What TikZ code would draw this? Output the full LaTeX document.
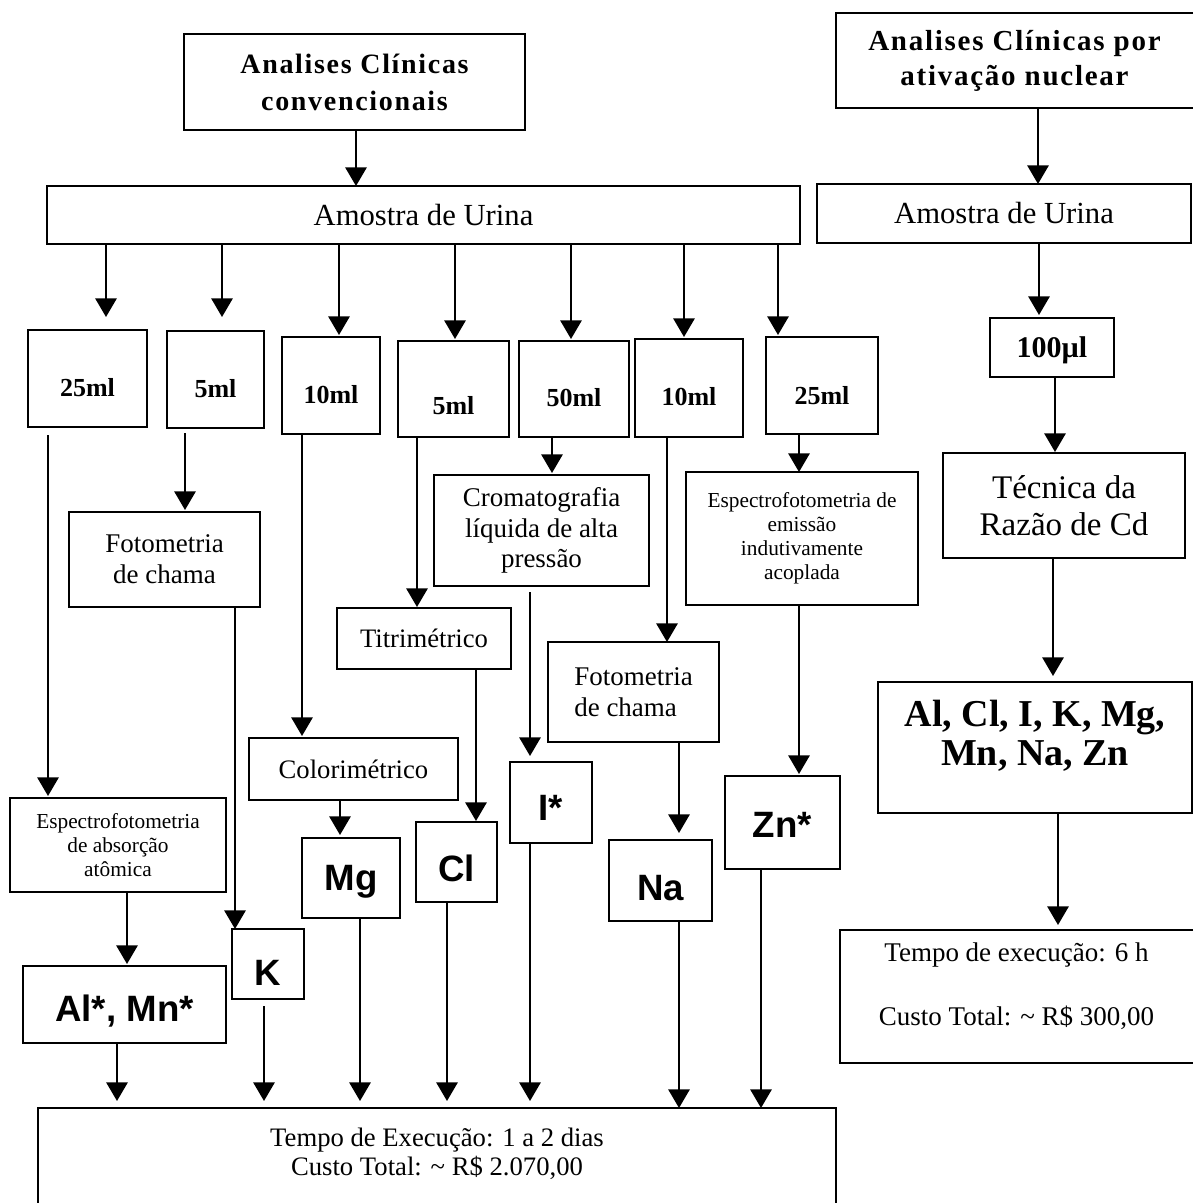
\documentclass[tikz,border=0pt]{standalone}
\usepackage{fontspec}
\setmainfont{Liberation Serif}
\setsansfont{Liberation Sans}
\usetikzlibrary{arrows.meta}

\newcommand\fxtopa{\fontsize{21}{27.75}\selectfont\bfseries\addfontfeatures{LetterSpace=6}}
\newcommand\fxtopb{\fontsize{21.75}{26.25}\selectfont\bfseries\addfontfeatures{LetterSpace=6}}
\newcommand\fxam{\fontsize{23}{27}\selectfont}
\newcommand\fxml{\fontsize{19.5}{23}\selectfont\bfseries}
\newcommand\fxul{\fontsize{22.5}{26}\selectfont\bfseries}
\newcommand\fxmid{\fontsize{20.25}{23}\selectfont}
\newcommand\fxtit{\fontsize{20}{24}\selectfont}
\newcommand\fxsmall{\fontsize{16}{18}\selectfont}
\newcommand\fxtec{\fontsize{24.75}{27.75}\selectfont}
\newcommand\fxel{\fontsize{28.5}{29.25}\selectfont\bfseries}
\newcommand\fxsans{\fontsize{27.5}{32}\selectfont\sffamily\bfseries}
\newcommand\fxtempo{\fontsize{20.25}{24}\selectfont}
\newcommand\fxbot{\fontsize{20}{21.75}\selectfont}

\newcommand\dn[2]{\raisebox{-#1pt}[\height][\depth]{#2}}
\newcommand\up[2]{\raisebox{#1pt}[\height][\depth]{\begin{tabular}{@{}c@{}}#2\end{tabular}}}

% name, x1, y1, x2, y2, style, text  (pixel coordinates)
\newcommand\pbox[7]{%
  \pgfmathsetmacro\pbw{(#4-#2)*0.75}%
  \pgfmathsetmacro\pbh{(#5-#3)*0.75}%
  \node[box,#6,minimum width=\pbw pt,minimum height=\pbh pt] (#1) at ({(#2+#4)/2},{(#3+#5)/2}) {#7};}

% src, dst, x, shorten start (px), shorten end (px)
\newcommand\conn[5]{\draw[arr,shorten <=#4*0.75pt,shorten >=#5*0.75pt] (#1.south -| #3,0) -- (#2.north -| #3,0);}

\tikzset{
  box/.style={draw,line width=1.5pt,inner sep=0pt,outer sep=0pt},
  arr/.style={line width=1.5pt,-{Triangle[width=16pt,length=14pt]}},
  bl/.style={line width=1.5pt}
}

\begin{document}
\begin{tikzpicture}[x=0.75pt,y=-0.75pt]
\useasboundingbox (0,0) rectangle (1193,1203);

% ---------- left column: conventional ----------
\pbox{top1}{184}{34}{525}{130}{font=\fxtopa,align=center}{Analises Clínicas\\convencionais}
\pbox{am1}{47}{186}{800}{244}{font=\fxam}{Amostra de Urina}

\pbox{ml25}{28}{330}{147}{427}{font=\fxml}{\dn{6.75}{25ml}}
\pbox{ml5}{167}{331}{264}{428}{font=\fxml}{\dn{6.75}{5ml}}
\pbox{ml10}{282}{337}{380}{434}{font=\fxml}{\dn{6.75}{10ml}}
\pbox{ml5b}{398}{341}{509}{437}{font=\fxml}{\dn{12.75}{5ml}}
\pbox{ml50}{519}{341}{629}{437}{font=\fxml}{\dn{6.75}{50ml}}
\pbox{ml10b}{635}{339}{743}{437}{font=\fxml}{\dn{6.75}{10ml}}
\pbox{ml25b}{766}{337}{878}{434}{font=\fxml}{\dn{7.5}{25ml}}

\pbox{foto1}{69}{512}{260}{607}{font=\fxmid,align=center}{Fotometria\\de chama}
\pbox{croma}{434}{475}{649}{586}{font=\fxmid,align=center}{Cromatografia\\líquida de alta\\pressão}
\pbox{emis}{686}{472}{918}{605}{font=\fxsmall,align=center}{Espectrofotometria de\\emissão\\indutivamente\\acoplada}
\pbox{titri}{337}{608}{511}{669}{font=\fxtit}{Titrimétrico}
\pbox{foto2}{548}{642}{719}{742}{font=\fxmid,align=left}{Fotometria\\de chama}
\pbox{color}{249}{738}{458}{800}{font=\fxtit}{Colorimétrico}
\pbox{absor}{10}{798}{226}{892}{font=\fxsmall,align=center}{Espectrofotometria\\de absorção\\atômica}

\pbox{Ist}{510}{762}{592}{843}{font=\fxsans}{\dn{4}{I*}}
\pbox{Zn}{725}{776}{840}{869}{font=\fxsans}{\dn{2}{Zn*}}
\pbox{Cl}{416}{822}{497}{902}{font=\fxsans}{\dn{4.5}{Cl}}
\pbox{Mg}{302}{838}{400}{918}{font=\fxsans}{\dn{3}{Mg}}
\pbox{Na}{609}{840}{712}{921}{font=\fxsans}{\dn{6}{Na}}
\pbox{K}{232}{929}{304}{999}{font=\fxsans}{\dn{7}{K}}
\pbox{Al}{23}{966}{226}{1043}{font=\fxsans}{\dn{5}{Al*, Mn*}}

\pbox{bot}{38}{1108}{836}{1199}{draw=none,font=\fxbot,align=center}{Tempo de Execução: 1 a 2 dias\\Custo Total: \textasciitilde\ R\$ 2.070,00}
\draw[bl] ([yshift=-6pt]bot.south west) -- (bot.north west) -- (bot.north east) -- ([yshift=-6pt]bot.south east);

% ---------- right column: nuclear activation ----------
\pbox{top2}{836}{13}{1193}{108}{draw=none,font=\fxtopb,align=center}{Analises Clínicas por\\ativação nuclear}
\draw[bl] (top2.north east) -- (top2.north west) -- (top2.south west) -- (top2.south east);
\pbox{am2}{817}{184}{1191}{243}{font=\fxam}{Amostra de Urina}
\pbox{ul100}{990}{318}{1114}{377}{font=\fxul}{\dn{2}{100µl}}
\pbox{tecn}{943}{453}{1185}{558}{font=\fxtec,align=center}{Técnica da\\Razão de Cd}
\pbox{elem}{878}{682}{1192}{813}{font=\fxel}{\up{6.75}{Al, Cl, I, K, Mg,\\Mn, Na, Zn}}
\pbox{tempo2}{840}{930}{1193}{1063}{draw=none,font=\fxtempo}{\up{6.75}{Tempo de execução: 6 h\\[24pt]Custo Total: \textasciitilde\ R\$ 300,00}}
\draw[bl] (tempo2.north east) -- (tempo2.north west) -- (tempo2.south west) -- (tempo2.south east);

% ---------- connectors ----------
\conn{top1}{am1}{356}{0}{0}
\conn{am1}{ml25}{106}{0}{13}
\conn{am1}{ml5}{222}{0}{14}
\conn{am1}{ml10}{339}{0}{2}
\conn{am1}{ml5b}{455}{0}{2}
\conn{am1}{ml50}{571}{0}{2}
\conn{am1}{ml10b}{684}{0}{2}
\conn{am1}{ml25b}{778}{0}{2}
\conn{ml25}{absor}{48}{8}{2}
\conn{ml5}{foto1}{185}{5}{2}
\conn{ml10}{color}{302}{0}{2}
\conn{ml5b}{titri}{417}{0}{1}
\conn{ml50}{croma}{552}{0}{2}
\conn{ml10b}{foto2}{667}{0}{0}
\conn{ml25b}{emis}{799}{0}{0}
\conn{foto1}{K}{235}{0}{0}
\conn{titri}{Cl}{476}{0}{1}
\conn{croma}{Ist}{530}{6}{6}
\conn{color}{Mg}{340}{0}{3}
\conn{foto2}{Na}{679}{0}{7}
\conn{emis}{Zn}{799}{0}{2}
\conn{absor}{Al}{127}{0}{2}
\conn{Al}{bot}{117}{0}{7}
\conn{K}{bot}{264}{7}{7}
\conn{Mg}{bot}{360}{0}{7}
\conn{Cl}{bot}{447}{0}{7}
\conn{Ist}{bot}{530}{0}{7}
\conn{Na}{bot}{679}{0}{0}
\conn{Zn}{bot}{761}{0}{0}
\conn{top2}{am2}{1038}{0}{0}
\conn{am2}{ul100}{1039}{0}{3}
\conn{ul100}{tecn}{1055}{0}{1}
\conn{tecn}{elem}{1053}{0}{6}
\conn{elem}{tempo2}{1058}{0}{5}
\end{tikzpicture}
\end{document}
